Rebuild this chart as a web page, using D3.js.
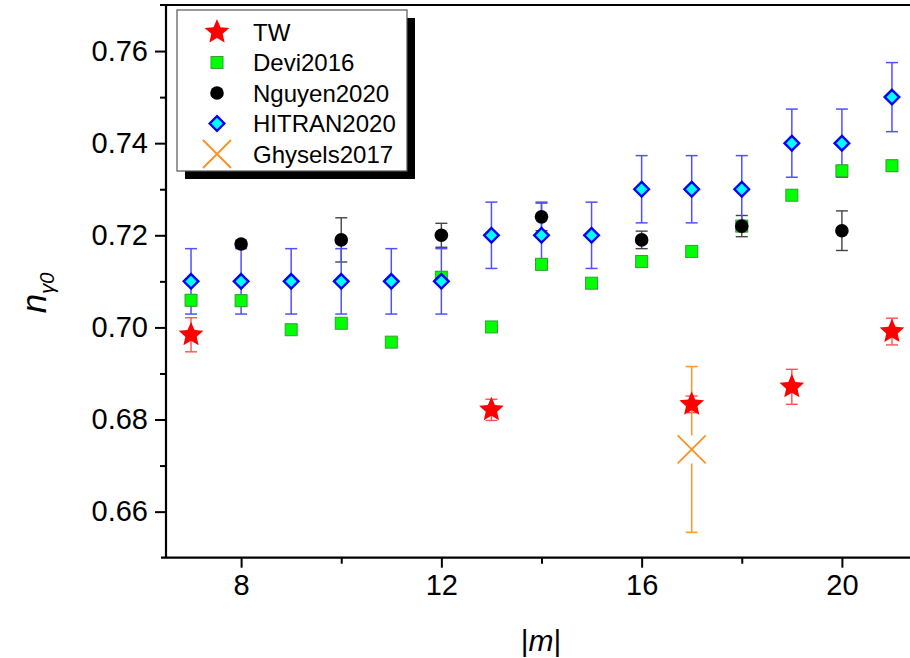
<!DOCTYPE html>
<html>
<head>
<meta charset="utf-8">
<script src="https://cdn.jsdelivr.net/npm/d3@7"></script>
<style>
  html, body { margin: 0; padding: 0; background: #fff; }
  svg { display: block; font-family: "Liberation Sans", Arial, sans-serif; }
</style>
</head>
<body>
<svg id="chart" width="910" height="658"></svg>
<script>
// |m| values for each dataset
const mAll = [7, 8, 9, 10, 11, 12, 13, 14, 15, 16, 17, 18, 19, 20, 21];

// HITRAN2020
const hitranVal = [0.710, 0.710, 0.710, 0.710, 0.710, 0.710, 0.720, 0.720, 0.720, 0.730, 0.730, 0.730, 0.740, 0.740, 0.750];
const hitranErr = [0.0071, 0.0071, 0.0071, 0.0071, 0.0071, 0.0071, 0.0072, 0.0072, 0.0072, 0.0073, 0.0073, 0.0073, 0.0074, 0.0074, 0.0075];

// Devi2016
const deviVal = [0.7059, 0.7058, 0.6995, 0.7009, 0.6968, 0.7109, 0.7001, 0.7137, 0.7096, 0.7143, 0.7165, 0.7220, 0.7287, 0.7340, 0.7351];
const deviErr = [0.0012, 0.0012, 0.0010, 0.0010, 0.0010, 0.0012, 0.0010, 0.0012, 0.0010, 0.0010, 0.0010, 0.0012, 0.0010, 0.0012, 0.0012];

// Nguyen2020
const nguyenM = [8, 10, 12, 14, 16, 18, 20];
const nguyenVal = [0.7181, 0.7190, 0.7200, 0.7240, 0.7190, 0.7220, 0.7210];
const nguyenErr = [0.0006, 0.0048, 0.0026, 0.0030, 0.0019, 0.0023, 0.0043];

// TW (this work)
const twM = [7, 13, 17, 19, 21];
const twVal = [0.6984, 0.6821, 0.6833, 0.6871, 0.6991];
const twErr = [0.0037, 0.0023, 0.0018, 0.0038, 0.0029];

// Ghysels2017
const ghyM = [17];
const ghyVal = [0.6735];
const ghyErr = [0.0180];

// Axis ticks
const xMajor = [8, 12, 16, 20];
const xMinor = [10, 14, 18];
const yMajor = [0.66, 0.68, 0.70, 0.72, 0.74, 0.76];
const yMinor = [0.67, 0.69, 0.71, 0.73, 0.75];

const legendNames = ["TW", "Devi2016", "Nguyen2020", "HITRAN2020", "Ghysels2017"];

const svg = d3.select("#chart");
const pLeft = 166, pRight = 917, pTop = 5, pBottom = 557.7;

const x = d3.scaleLinear().domain([6.5, 21.5]).range([pLeft, pRight]);
const y = d3.scaleLinear().domain([0.65, 0.77]).range([pBottom, pTop]);

// marker path builders (centred on 0,0)
function starPath(rOut, ratio) {
  const rIn = rOut * ratio, pts = [];
  for (let i = 0; i < 10; i++) {
    const r = i % 2 ? rIn : rOut;
    const a = -Math.PI / 2 + i * Math.PI / 5;
    pts.push([r * Math.cos(a), r * Math.sin(a)]);
  }
  return "M" + pts.map(p => p[0].toFixed(2) + "," + p[1].toFixed(2)).join("L") + "Z";
}
function diamondPath(h) { return `M0,${-h}L${h},0L0,${h}L${-h},0Z`; }
function crossPath(h) { return `M${-h},${-h}L${h},${h}M${-h},${h}L${h},${-h}`; }

const STAR = starPath(13, 0.46);
const DIAMOND = diamondPath(7.3);
const CROSS = crossPath(14);

const series = {
  tw:     { fill: "#ff0000", stroke: "#ff0000", err: "#ff5050" },
  devi:   { fill: "#00ff00", stroke: "#33a033", err: "#1f7a1f" },
  nguyen: { fill: "#000000", stroke: "#000000", err: "#444444" },
  hitran: { fill: "#00ffff", stroke: "#0000ff", err: "#5050ff" },
  ghy:    { fill: "none",    stroke: "#ff9020", err: "#ff9a30" }
};

// error bar helper: vertical line with caps, optional gap around marker
function errorBars(g, ms, vals, errs, color, capW, width, gap) {
  const grp = g.append("g").attr("stroke", color).attr("stroke-width", width).attr("fill", "none");
  ms.forEach((m, i) => {
    const cx = x(m), y0 = y(vals[i]), yt = y(vals[i] + errs[i]), yb = y(vals[i] - errs[i]);
    if (gap > 0) {
      grp.append("line").attr("x1", cx).attr("x2", cx).attr("y1", yt).attr("y2", y0 - gap);
      grp.append("line").attr("x1", cx).attr("x2", cx).attr("y1", y0 + gap).attr("y2", yb);
    } else {
      grp.append("line").attr("x1", cx).attr("x2", cx).attr("y1", yt).attr("y2", yb);
    }
    grp.append("line").attr("x1", cx - capW / 2).attr("x2", cx + capW / 2).attr("y1", yt).attr("y2", yt);
    grp.append("line").attr("x1", cx - capW / 2).attr("x2", cx + capW / 2).attr("y1", yb).attr("y2", yb);
  });
}

const plot = svg.append("g");

// error bars
errorBars(plot, mAll, deviVal, deviErr, series.devi.err, 10, 1.2, 0);
errorBars(plot, nguyenM, nguyenVal, nguyenErr, series.nguyen.err, 12, 1.4, 0);
errorBars(plot, twM, twVal, twErr, series.tw.err, 12, 1.4, 0);
errorBars(plot, mAll, hitranVal, hitranErr, series.hitran.err, 12, 1.5, 0);
errorBars(plot, ghyM, ghyVal, ghyErr, series.ghy.err, 12, 1.6, 14);

// Devi2016 squares
plot.append("g").selectAll("rect").data(mAll).join("rect")
  .attr("x", d => x(d) - 6).attr("y", (d, i) => y(deviVal[i]) - 6)
  .attr("width", 12).attr("height", 12)
  .attr("fill", series.devi.fill).attr("stroke", series.devi.stroke).attr("stroke-width", 1);

// Nguyen2020 circles
plot.append("g").selectAll("circle").data(nguyenM).join("circle")
  .attr("cx", d => x(d)).attr("cy", (d, i) => y(nguyenVal[i])).attr("r", 6.8)
  .attr("fill", series.nguyen.fill);

// HITRAN2020 diamonds
plot.append("g").selectAll("path").data(mAll).join("path")
  .attr("d", DIAMOND)
  .attr("transform", (d, i) => `translate(${x(d)},${y(hitranVal[i])})`)
  .attr("fill", series.hitran.fill).attr("stroke", series.hitran.stroke).attr("stroke-width", 2.4)
  .attr("stroke-linejoin", "miter");

// TW stars
plot.append("g").selectAll("path").data(twM).join("path")
  .attr("d", STAR)
  .attr("transform", (d, i) => `translate(${x(d)},${y(twVal[i])})`)
  .attr("fill", series.tw.fill);

// Ghysels2017 crosses
plot.append("g").selectAll("path").data(ghyM).join("path")
  .attr("d", CROSS)
  .attr("transform", (d, i) => `translate(${x(d)},${y(ghyVal[i])})`)
  .attr("fill", "none").attr("stroke", series.ghy.stroke).attr("stroke-width", 1.8);

// axes
const fontTick = 29;
const yAxis = svg.append("g").attr("transform", `translate(${pLeft},0)`)
  .call(d3.axisLeft(y).tickValues(yMajor).tickSize(11).tickPadding(7).tickFormat(d3.format(".2f")));
const yAxisMinor = svg.append("g").attr("transform", `translate(${pLeft},0)`)
  .call(d3.axisLeft(y).tickValues(yMinor).tickSize(6).tickFormat(""));
const xAxis = svg.append("g").attr("transform", `translate(0,${pBottom})`)
  .call(d3.axisBottom(x).tickValues(xMajor).tickSize(10).tickPadding(7).tickFormat(d3.format("d")));
const xAxisMinor = svg.append("g").attr("transform", `translate(0,${pBottom})`)
  .call(d3.axisBottom(x).tickValues(xMinor).tickSize(6).tickFormat(""));

[yAxis, yAxisMinor, xAxis, xAxisMinor].forEach(a => {
  a.select(".domain").remove();
  a.selectAll(".tick line").attr("stroke", "#000").attr("stroke-width", 2);
  a.selectAll(".tick text").attr("font-size", fontTick).attr("fill", "#000")
    .attr("font-family", "'Liberation Sans', Arial, sans-serif");
});

// frame
const frame = svg.append("g").attr("stroke", "#000").attr("stroke-width", 2.2).attr("fill", "none");
frame.append("line").attr("x1", pLeft).attr("x2", pLeft).attr("y1", pTop).attr("y2", pBottom);
frame.append("line").attr("x1", pLeft - 6).attr("x2", pRight).attr("y1", pTop).attr("y2", pTop);
frame.append("line").attr("x1", pLeft - 5).attr("x2", pRight).attr("y1", pBottom).attr("y2", pBottom);
frame.append("line").attr("x1", pRight).attr("x2", pRight).attr("y1", pTop).attr("y2", pBottom);

// axis titles
const xt = svg.append("text").attr("x", 541).attr("y", 651).attr("text-anchor", "middle")
  .attr("font-size", 30).attr("fill", "#000");
xt.append("tspan").text("|");
xt.append("tspan").attr("font-style", "italic").text("m");
xt.append("tspan").text("|");

const yt = svg.append("text").attr("transform", "translate(46,293) rotate(-90)")
  .attr("text-anchor", "middle").attr("font-size", 35).attr("fill", "#000");
yt.append("tspan").attr("font-style", "italic").text("n");
yt.append("tspan").attr("font-style", "italic").attr("font-size", 20).attr("dy", 8).text("γ0");

// legend
const lgX = 177, lgY = 10, lgW = 230, lgH = 161;
svg.append("rect").attr("x", lgX + 8).attr("y", lgY + 8).attr("width", lgW).attr("height", lgH).attr("fill", "#000");
svg.append("rect").attr("x", lgX).attr("y", lgY).attr("width", lgW).attr("height", lgH)
  .attr("fill", "#fff").attr("stroke", "#555").attr("stroke-width", 1.2);

const legendMarkers = [
  g => g.append("path").attr("d", STAR).attr("fill", series.tw.fill),
  g => g.append("rect").attr("x", -6).attr("y", -6).attr("width", 12).attr("height", 12)
        .attr("fill", series.devi.fill).attr("stroke", series.devi.stroke).attr("stroke-width", 1),
  g => g.append("circle").attr("r", 6.8).attr("fill", series.nguyen.fill),
  g => g.append("path").attr("d", DIAMOND).attr("fill", series.hitran.fill)
        .attr("stroke", series.hitran.stroke).attr("stroke-width", 2.4),
  g => g.append("path").attr("d", CROSS).attr("fill", "none")
        .attr("stroke", series.ghy.stroke).attr("stroke-width", 1.8)
];
legendNames.forEach((name, i) => {
  const cy = 32 + i * 30.5;
  const g = svg.append("g").attr("transform", `translate(217,${cy})`);
  legendMarkers[i](g);
  svg.append("text").attr("x", 253).attr("y", cy).attr("dy", "0.36em")
    .attr("font-size", 24).attr("fill", "#000").text(name);
});
</script>
</body>
</html>
